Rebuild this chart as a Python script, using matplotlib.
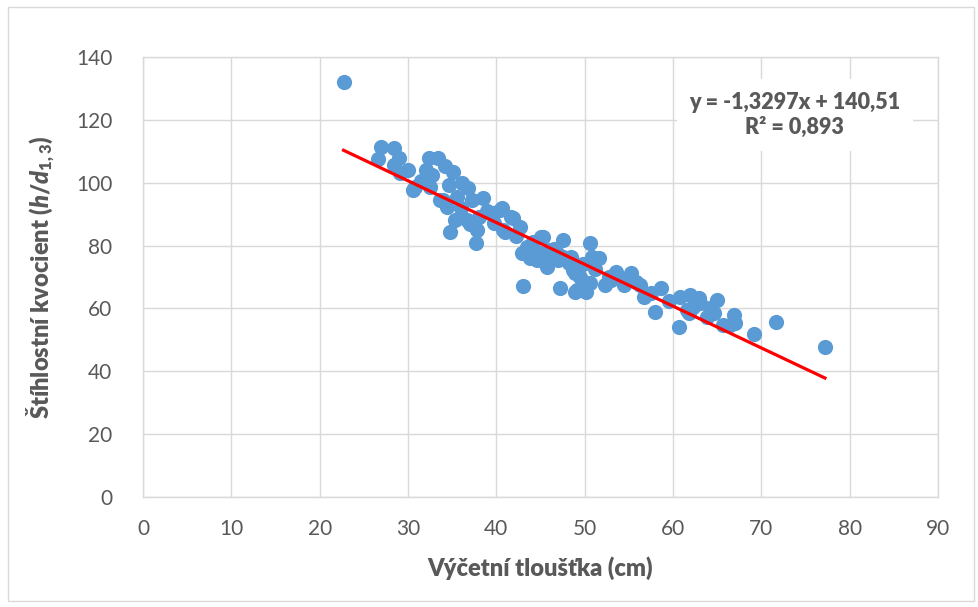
import matplotlib
matplotlib.use("Agg")
import matplotlib.pyplot as plt
from matplotlib.patches import Rectangle

# Data
dbh = [22.7, 26.6, 27.0, 28.4, 29.0, 28.4, 29.1, 30.0, 30.8, 30.6,
       32.4, 33.4, 32.0, 34.2, 35.1, 32.7, 32.5, 34.6, 36.1, 36.8,
       33.6, 34.4, 35.5, 37.2, 38.5, 35.3, 34.8, 36.7, 37.8, 37.7,
       39.5, 40.6, 39.7, 41.7, 42.7, 41.0, 42.9, 44.2, 34.0, 37.0,
       40.4, 41.9, 40.8, 44.6, 45.1, 45.7, 47.6, 47.6, 48.7, 50.6,
       50.8, 43.0, 47.2, 49.1, 50.2, 49.5, 44.2, 46.1, 44.0, 45.3,
       45.7, 51.6, 48.9, 48.9, 50.2, 50.6, 53.5, 55.2, 52.3, 54.4,
       56.3, 56.7, 58.0, 58.6, 60.7, 60.8, 61.9, 61.6, 63.1, 65.0,
       63.8, 66.9, 66.5, 62.9, 61.8, 64.6, 67.0, 65.7, 69.2, 71.7,
       77.2, 48.4, 46.9, 45.0, 43.5, 46.5, 49.8, 52.8, 54.0, 57.5,
       59.5, 62.3, 64.2, 38.0, 39.0, 42.2, 36.0, 31.5, 43.8, 47.0,
       48.2, 51.2, 53.0, 55.8]
ratio = [131.9, 107.5, 111.3, 110.9, 108.0, 105.6, 103.0, 104.0, 98.7, 97.7,
         108.0, 107.8, 104.0, 105.3, 103.5, 102.4, 98.7, 99.3, 99.8, 98.2,
         94.5, 92.4, 95.5, 94.5, 95.2, 88.1, 84.2, 88.1, 85.0, 80.7,
         90.3, 91.9, 87.1, 89.2, 86.0, 84.4, 77.5, 81.2, 94.5, 87.0,
         91.3, 88.8, 85.0, 75.4, 82.8, 73.3, 81.8, 76.5, 72.2, 80.7,
         76.5, 67.1, 66.4, 65.9, 65.3, 70.1, 78.6, 78.6, 80.2, 82.8,
         74.3, 75.9, 71.2, 65.3, 68.0, 68.0, 71.7, 71.2, 67.5, 67.5,
         67.5, 63.7, 59.0, 66.4, 54.2, 63.7, 64.3, 59.5, 61.6, 62.7,
         57.4, 57.9, 54.7, 63.2, 58.4, 58.4, 55.3, 54.7, 51.8, 55.6,
         47.8, 76.5, 77.5, 77.5, 79.5, 79.0, 74.0, 70.0, 69.5, 65.0,
         62.5, 60.5, 60.0, 89.0, 91.0, 83.0, 92.0, 100.5, 76.0, 75.5,
         74.5, 72.5, 69.0, 68.5]

slope = -1.3297
intercept = 140.51
equation = "y = -1,3297x + 140,51"
r2_text = "R² = 0,893"

x_ticks = list(range(0, 100, 10))
y_ticks = list(range(0, 160, 20))

plt.rcParams['font.family'] = ['Lato', 'DejaVu Sans']
plt.rcParams['mathtext.fontset'] = 'custom'
plt.rcParams['mathtext.it'] = 'Lato:heavy:italic'
plt.rcParams['mathtext.rm'] = 'Lato:heavy'
plt.rcParams['mathtext.bf'] = 'Lato:heavy'

grey = '#595959'
fig = plt.figure(figsize=(9.79, 6.07), dpi=100)
ax = fig.add_axes([143/979, 110/607, (938-143)/979, (497-57)/607])

ax.scatter(dbh, ratio, s=120, color='#5b9bd5', zorder=3, linewidths=0)
xmin, xmax = min(dbh), max(dbh)
ax.plot([xmin, xmax], [slope*xmin + intercept, slope*xmax + intercept],
        color='#ff0000', lw=2.3, zorder=4)

ax.set_xlim(0, 90)
ax.set_ylim(0, 140)
ax.set_xticks(x_ticks)
ax.set_yticks(y_ticks)
ax.grid(True, color='#d9d9d9', lw=1.0, zorder=0)
ax.set_axisbelow(True)
for sp in ax.spines.values():
    sp.set_color('#d9d9d9')
    sp.set_linewidth(1.0)
ax.tick_params(axis='x', length=0, labelsize=15, colors=grey, pad=16)
ax.tick_params(axis='y', length=0, labelsize=15, colors=grey, pad=22)

ax.set_xlabel("Výčetní tloušťka (cm)", fontsize=17, fontweight='heavy', color=grey, labelpad=12)
ax.set_ylabel(r"Štíhlostní kvocient ($\mathit{h/d}_{\mathit{1,3}}$)", fontsize=17,
              fontweight='heavy', color=grey, labelpad=14)

ax.text(73.8, 121.5, equation + "\n" + r2_text, ha='center', va='center',
        fontsize=15.5, fontweight='heavy', color=grey, linespacing=1.25, zorder=6,
        bbox=dict(facecolor='white', edgecolor='none', pad=9))

fig.patches.append(Rectangle((8/979, 6/607), 966/979, 594/607, transform=fig.transFigure,
                             fill=False, edgecolor='#d9d9d9', lw=1.0))

fig.savefig("out.png", dpi=100)
